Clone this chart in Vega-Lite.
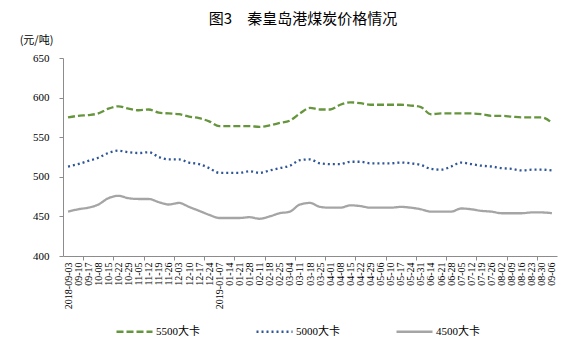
{
  "$schema": "https://vega.github.io/schema/vega-lite/v6.json",
  "width": 494,
  "height": 198,
  "autosize": {"type": "none"},
  "padding": {"left": 63, "top": 58, "right": 9, "bottom": 86},
  "background": "white",
  "title": {
    "text": "图3　秦皇岛港煤炭价格情况",
    "font": "Noto Sans CJK SC",
    "fontSize": 15,
    "fontWeight": "normal",
    "color": "#000000",
    "anchor": "middle",
    "frame": "group",
    "offset": 7,
    "dx": -7
  },
  "config": {"view": {"stroke": null}},
  "datasets": {
    "prices": [
      {"date": "2018-09-03", "series": "5500大卡", "price": 575},
      {"date": "09-10", "series": "5500大卡", "price": 577},
      {"date": "09-17", "series": "5500大卡", "price": 578},
      {"date": "10-08", "series": "5500大卡", "price": 580},
      {"date": "10-15", "series": "5500大卡", "price": 586},
      {"date": "10-22", "series": "5500大卡", "price": 589},
      {"date": "10-29", "series": "5500大卡", "price": 586},
      {"date": "11-05", "series": "5500大卡", "price": 584},
      {"date": "11-12", "series": "5500大卡", "price": 585},
      {"date": "11-19", "series": "5500大卡", "price": 581},
      {"date": "11-26", "series": "5500大卡", "price": 580},
      {"date": "12-03", "series": "5500大卡", "price": 579},
      {"date": "12-10", "series": "5500大卡", "price": 576},
      {"date": "12-17", "series": "5500大卡", "price": 574},
      {"date": "12-24", "series": "5500大卡", "price": 570},
      {"date": "2019-01-07", "series": "5500大卡", "price": 564},
      {"date": "01-14", "series": "5500大卡", "price": 564},
      {"date": "01-21", "series": "5500大卡", "price": 564},
      {"date": "01-28", "series": "5500大卡", "price": 564},
      {"date": "02-11", "series": "5500大卡", "price": 563},
      {"date": "02-18", "series": "5500大卡", "price": 565},
      {"date": "02-25", "series": "5500大卡", "price": 568},
      {"date": "03-04", "series": "5500大卡", "price": 571},
      {"date": "03-11", "series": "5500大卡", "price": 580},
      {"date": "03-18", "series": "5500大卡", "price": 587},
      {"date": "03-25", "series": "5500大卡", "price": 585},
      {"date": "04-01", "series": "5500大卡", "price": 585},
      {"date": "04-08", "series": "5500大卡", "price": 591},
      {"date": "04-15", "series": "5500大卡", "price": 594},
      {"date": "04-22", "series": "5500大卡", "price": 593},
      {"date": "04-29", "series": "5500大卡", "price": 591},
      {"date": "05-06", "series": "5500大卡", "price": 591},
      {"date": "05-10", "series": "5500大卡", "price": 591},
      {"date": "05-17", "series": "5500大卡", "price": 591},
      {"date": "05-24", "series": "5500大卡", "price": 590},
      {"date": "05-31", "series": "5500大卡", "price": 588},
      {"date": "06-14", "series": "5500大卡", "price": 579},
      {"date": "06-21", "series": "5500大卡", "price": 580},
      {"date": "06-28", "series": "5500大卡", "price": 580},
      {"date": "07-05", "series": "5500大卡", "price": 580},
      {"date": "07-12", "series": "5500大卡", "price": 580},
      {"date": "07-19", "series": "5500大卡", "price": 579},
      {"date": "07-26", "series": "5500大卡", "price": 577},
      {"date": "08-02", "series": "5500大卡", "price": 577},
      {"date": "08-09", "series": "5500大卡", "price": 576},
      {"date": "08-16", "series": "5500大卡", "price": 575},
      {"date": "08-23", "series": "5500大卡", "price": 575},
      {"date": "08-30", "series": "5500大卡", "price": 575},
      {"date": "09-06", "series": "5500大卡", "price": 568},
      {"date": "2018-09-03", "series": "5000大卡", "price": 513},
      {"date": "09-10", "series": "5000大卡", "price": 516},
      {"date": "09-17", "series": "5000大卡", "price": 520},
      {"date": "10-08", "series": "5000大卡", "price": 524},
      {"date": "10-15", "series": "5000大卡", "price": 530},
      {"date": "10-22", "series": "5000大卡", "price": 533},
      {"date": "10-29", "series": "5000大卡", "price": 531},
      {"date": "11-05", "series": "5000大卡", "price": 530},
      {"date": "11-12", "series": "5000大卡", "price": 531},
      {"date": "11-19", "series": "5000大卡", "price": 525},
      {"date": "11-26", "series": "5000大卡", "price": 522},
      {"date": "12-03", "series": "5000大卡", "price": 522},
      {"date": "12-10", "series": "5000大卡", "price": 518},
      {"date": "12-17", "series": "5000大卡", "price": 516},
      {"date": "12-24", "series": "5000大卡", "price": 511},
      {"date": "2019-01-07", "series": "5000大卡", "price": 505},
      {"date": "01-14", "series": "5000大卡", "price": 505},
      {"date": "01-21", "series": "5000大卡", "price": 505},
      {"date": "01-28", "series": "5000大卡", "price": 507},
      {"date": "02-11", "series": "5000大卡", "price": 505},
      {"date": "02-18", "series": "5000大卡", "price": 508},
      {"date": "02-25", "series": "5000大卡", "price": 511},
      {"date": "03-04", "series": "5000大卡", "price": 514},
      {"date": "03-11", "series": "5000大卡", "price": 521},
      {"date": "03-18", "series": "5000大卡", "price": 522},
      {"date": "03-25", "series": "5000大卡", "price": 517},
      {"date": "04-01", "series": "5000大卡", "price": 516},
      {"date": "04-08", "series": "5000大卡", "price": 516},
      {"date": "04-15", "series": "5000大卡", "price": 519},
      {"date": "04-22", "series": "5000大卡", "price": 519},
      {"date": "04-29", "series": "5000大卡", "price": 517},
      {"date": "05-06", "series": "5000大卡", "price": 517},
      {"date": "05-10", "series": "5000大卡", "price": 517},
      {"date": "05-17", "series": "5000大卡", "price": 518},
      {"date": "05-24", "series": "5000大卡", "price": 517},
      {"date": "05-31", "series": "5000大卡", "price": 515},
      {"date": "06-14", "series": "5000大卡", "price": 510},
      {"date": "06-21", "series": "5000大卡", "price": 509},
      {"date": "06-28", "series": "5000大卡", "price": 513},
      {"date": "07-05", "series": "5000大卡", "price": 518},
      {"date": "07-12", "series": "5000大卡", "price": 516},
      {"date": "07-19", "series": "5000大卡", "price": 514},
      {"date": "07-26", "series": "5000大卡", "price": 513},
      {"date": "08-02", "series": "5000大卡", "price": 511},
      {"date": "08-09", "series": "5000大卡", "price": 510},
      {"date": "08-16", "series": "5000大卡", "price": 508},
      {"date": "08-23", "series": "5000大卡", "price": 509},
      {"date": "08-30", "series": "5000大卡", "price": 509},
      {"date": "09-06", "series": "5000大卡", "price": 508},
      {"date": "2018-09-03", "series": "4500大卡", "price": 456},
      {"date": "09-10", "series": "4500大卡", "price": 459},
      {"date": "09-17", "series": "4500大卡", "price": 461},
      {"date": "10-08", "series": "4500大卡", "price": 465},
      {"date": "10-15", "series": "4500大卡", "price": 473},
      {"date": "10-22", "series": "4500大卡", "price": 476},
      {"date": "10-29", "series": "4500大卡", "price": 473},
      {"date": "11-05", "series": "4500大卡", "price": 472},
      {"date": "11-12", "series": "4500大卡", "price": 472},
      {"date": "11-19", "series": "4500大卡", "price": 468},
      {"date": "11-26", "series": "4500大卡", "price": 465},
      {"date": "12-03", "series": "4500大卡", "price": 467},
      {"date": "12-10", "series": "4500大卡", "price": 462},
      {"date": "12-17", "series": "4500大卡", "price": 457},
      {"date": "12-24", "series": "4500大卡", "price": 452},
      {"date": "2019-01-07", "series": "4500大卡", "price": 448},
      {"date": "01-14", "series": "4500大卡", "price": 448},
      {"date": "01-21", "series": "4500大卡", "price": 448},
      {"date": "01-28", "series": "4500大卡", "price": 449},
      {"date": "02-11", "series": "4500大卡", "price": 447},
      {"date": "02-18", "series": "4500大卡", "price": 450},
      {"date": "02-25", "series": "4500大卡", "price": 454},
      {"date": "03-04", "series": "4500大卡", "price": 456},
      {"date": "03-11", "series": "4500大卡", "price": 465},
      {"date": "03-18", "series": "4500大卡", "price": 467},
      {"date": "03-25", "series": "4500大卡", "price": 462},
      {"date": "04-01", "series": "4500大卡", "price": 461},
      {"date": "04-08", "series": "4500大卡", "price": 461},
      {"date": "04-15", "series": "4500大卡", "price": 464},
      {"date": "04-22", "series": "4500大卡", "price": 463},
      {"date": "04-29", "series": "4500大卡", "price": 461},
      {"date": "05-06", "series": "4500大卡", "price": 461},
      {"date": "05-10", "series": "4500大卡", "price": 461},
      {"date": "05-17", "series": "4500大卡", "price": 462},
      {"date": "05-24", "series": "4500大卡", "price": 461},
      {"date": "05-31", "series": "4500大卡", "price": 459},
      {"date": "06-14", "series": "4500大卡", "price": 456},
      {"date": "06-21", "series": "4500大卡", "price": 456},
      {"date": "06-28", "series": "4500大卡", "price": 456},
      {"date": "07-05", "series": "4500大卡", "price": 460},
      {"date": "07-12", "series": "4500大卡", "price": 459},
      {"date": "07-19", "series": "4500大卡", "price": 457},
      {"date": "07-26", "series": "4500大卡", "price": 456},
      {"date": "08-02", "series": "4500大卡", "price": 454},
      {"date": "08-09", "series": "4500大卡", "price": 454},
      {"date": "08-16", "series": "4500大卡", "price": 454},
      {"date": "08-23", "series": "4500大卡", "price": 455},
      {"date": "08-30", "series": "4500大卡", "price": 455},
      {"date": "09-06", "series": "4500大卡", "price": 454}
    ]
  },
  "data": {"name": "prices"},
  "mark": {"type": "line", "strokeWidth": 2.3, "interpolate": "monotone"},
  "encoding": {
    "x": {
      "field": "date",
      "type": "ordinal",
      "sort": null,
      "scale": {"type": "band", "paddingInner": 0, "paddingOuter": 0},
      "axis": {
        "title": null,
        "labelAngle": -90,
        "labelFont": "Liberation Serif",
        "labelFontSize": 10,
        "labelColor": "#000000",
        "labelPadding": 2,
        "domainColor": "#8c8c8c",
        "tickColor": "#8c8c8c",
        "tickSize": 4,
        "tickBand": "extent",
        "tickOpacity": {
          "condition": {
            "test": "indexof(['09-10','10-15','11-05','11-26','12-17','01-14','02-11','03-04','03-25','04-15','05-06','05-24','06-21','07-12','08-02','08-23'], datum.value) >= 0",
            "value": 1
          },
          "value": 0
        },
        "grid": false
      }
    },
    "y": {
      "field": "price",
      "type": "quantitative",
      "scale": {"domain": [400, 650], "nice": false, "zero": false},
      "axis": {
        "title": "(元/吨)",
        "titleAngle": 0,
        "titleX": -27,
        "titleY": -18,
        "titleAlign": "center",
        "titleBaseline": "middle",
        "titleFont": "Noto Sans CJK SC",
        "titleFontSize": 11,
        "titleFontWeight": "normal",
        "titleColor": "#000000",
        "values": [400, 450, 500, 550, 600, 650],
        "grid": false,
        "labelFont": "Liberation Serif",
        "labelFontSize": 11,
        "labelColor": "#000000",
        "labelPadding": 10,
        "domainColor": "#8c8c8c",
        "tickColor": "#8c8c8c",
        "tickSize": 4
      }
    },
    "color": {
      "field": "series",
      "type": "nominal",
      "scale": {"domain": ["5500大卡", "5000大卡", "4500大卡"], "range": ["#65953C", "#2E5597", "#A5A5A5"]},
      "legend": {
        "title": null,
        "orient": "none",
        "direction": "horizontal",
        "legendX": 52,
        "legendY": 254,
        "symbolType": "stroke",
        "symbolSize": 1296,
        "symbolStrokeWidth": 2.5,
        "labelFont": "Liberation Serif, Noto Sans CJK SC",
        "labelFontSize": 11,
        "labelColor": "#000000",
        "labelOffset": 2,
        "columnPadding": 51
      }
    },
    "strokeDash": {
      "field": "series",
      "type": "nominal",
      "scale": {"domain": ["5500大卡", "5000大卡", "4500大卡"], "range": [[7, 3], [2, 3], [1, 0]]},
      "legend": {
        "title": null,
        "orient": "none",
        "direction": "horizontal",
        "legendX": 52,
        "legendY": 254,
        "symbolType": "stroke",
        "symbolSize": 1296,
        "symbolStrokeWidth": 2.5,
        "labelFont": "Liberation Serif, Noto Sans CJK SC",
        "labelFontSize": 11,
        "labelColor": "#000000",
        "labelOffset": 2,
        "columnPadding": 51
      }
    }
  }
}
